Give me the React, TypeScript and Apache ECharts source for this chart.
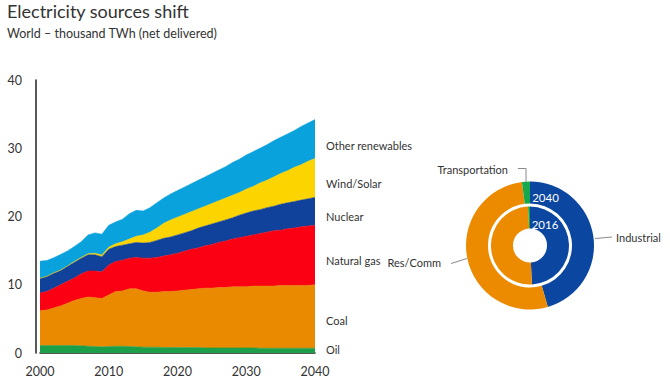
import React, { useEffect, useRef } from "react";
import * as echarts from "echarts";

const years = [
  "2000","2001","2002","2003","2004","2005","2006","2007","2008","2009",
  "2010","2011","2012","2013","2014","2015","2016","2017","2018","2019",
  "2020","2021","2022","2023","2024","2025","2026","2027","2028","2029",
  "2030","2031","2032","2033","2034","2035","2036","2037","2038","2039","2040",
];

const oil = [1.1,1.1,1.1,1.1,1.1,1.1,1.05,1.0,0.95,0.9,0.95,1.0,1.0,0.95,0.9,0.85,0.85,0.85,0.8,0.8,0.8,0.8,0.8,0.8,0.75,0.75,0.75,0.75,0.75,0.75,0.75,0.75,0.7,0.7,0.7,0.7,0.7,0.7,0.7,0.7,0.7];
const coal = [5.1,5.2,5.5,5.8,6.2,6.6,6.95,7.2,7.15,7.1,7.55,8.0,8.1,8.45,8.5,8.25,8.05,8.05,8.2,8.2,8.3,8.4,8.5,8.6,8.75,8.75,8.85,8.85,8.95,8.95,8.95,9.05,9.1,9.1,9.1,9.2,9.2,9.2,9.2,9.2,9.3];
const naturalGas = [2.6,2.7,2.9,3.1,3.2,3.3,3.6,3.8,3.9,3.9,4.4,4.4,4.5,4.5,4.6,4.8,5.0,5.1,5.2,5.4,5.5,5.7,5.9,6.0,6.2,6.4,6.6,6.8,7.0,7.2,7.4,7.5,7.7,7.9,8.1,8.1,8.3,8.4,8.6,8.7,8.7];
const nuclear = [2.1,2.2,2.2,2.1,2.2,2.3,2.3,2.4,2.4,2.2,2.3,2.2,2.2,2.1,2.2,2.2,2.3,2.5,2.6,2.6,2.7,2.7,2.7,2.9,2.9,3.0,3.0,3.1,3.1,3.3,3.4,3.5,3.5,3.6,3.6,3.8,3.8,3.9,3.9,4.0,4.1];
const windSolar = [0.05,0.05,0.05,0.05,0.05,0.1,0.1,0.15,0.2,0.25,0.3,0.4,0.5,0.7,0.9,1.2,1.5,1.8,2.2,2.5,2.6,2.7,2.8,2.8,2.9,3.0,3.1,3.2,3.3,3.3,3.5,3.6,3.9,4.0,4.3,4.5,4.7,5.0,5.2,5.5,5.7];
const otherRenewables = [2.5,2.3,2.2,2.3,2.2,2.2,2.3,2.75,3.0,3.05,3.2,3.2,3.3,3.7,3.8,3.5,3.6,3.7,3.7,3.8,3.9,4.0,4.1,4.2,4.3,4.4,4.5,4.6,4.8,4.9,5.0,5.1,5.1,5.2,5.3,5.3,5.4,5.4,5.6,5.6,5.7];

const sourceNames = ["Oil", "Coal", "Natural gas", "Nuclear", "Wind/Solar", "Other renewables"];
const sourceValues = [oil, coal, naturalGas, nuclear, windSolar, otherRenewables];
const sourceColors = ["#1c9f49", "#ea8a00", "#fb0012", "#10419b", "#fcd400", "#0aa2dc"];
const sourceLabelY = [349.5, 320, 260, 216.5, 183, 145.5];

const yTicks = [0, 10, 20, 30, 40];

const sectorNames = ["Industrial", "Res/Comm", "Transportation"];
const share2016 = [49.2, 50.0, 0.8];
const share2040 = [45.5, 52.5, 2.0];
const sectorColors = ["#0b47a0", "#ec8b00", "#16a84c"];

const FONT = "Lato, 'Open Sans', sans-serif";
const TXT = "#333333";

export default function App() {
  const ref = useRef<HTMLDivElement>(null);
  useEffect(() => {
    if (!ref.current) return;
    const chart = echarts.init(ref.current, null, { renderer: "svg" });
    const cx = 530;
    const cy = 245.5;
    const option: any = {
      animation: false,
      backgroundColor: "#ffffff",
      textStyle: { fontFamily: FONT },
      title: {
        text: "Electricity sources shift",
        subtext: "World \u2013 thousand TWh (net delivered)",
        left: 7,
        top: 2,
        padding: 0,
        itemGap: 7,
        textStyle: { fontFamily: FONT, fontSize: 18, fontWeight: "normal", color: TXT },
        subtextStyle: { fontFamily: FONT, fontSize: 12.5, color: TXT },
      },
      grid: { left: 40, right: 355, top: 80, bottom: 32, containLabel: false },
      xAxis: {
        type: "category",
        data: years,
        boundaryGap: false,
        axisLine: { show: true, lineStyle: { color: "#222", width: 1.5 } },
        axisTick: { show: false },
        axisLabel: { interval: 9, fontSize: 12.5, color: TXT, margin: 12, fontFamily: FONT },
        splitLine: { show: false },
      },
      yAxis: {
        type: "value",
        min: yTicks[0],
        max: yTicks[yTicks.length - 1],
        interval: 10,
        offset: 4,
        axisLine: { show: true, lineStyle: { color: "#222", width: 1.5 } },
        axisTick: { show: false },
        axisLabel: { fontSize: 12.5, color: TXT, margin: 14, fontFamily: FONT },
        splitLine: { show: false },
      },
      series: [
        ...sourceNames.map((name, i) => ({
          name,
          type: "line",
          stack: "total",
          data: sourceValues[i],
          symbol: "none",
          smooth: false,
          lineStyle: { width: 0.6, color: sourceColors[i] },
          itemStyle: { color: sourceColors[i] },
          areaStyle: { color: sourceColors[i], opacity: 1 },
          z: 2,
        })),
        {
          type: "pie",
          name: "2016",
          center: [cx, cy],
          radius: [17, 39],
          startAngle: 90,
          clockwise: true,
          label: { show: false },
          labelLine: { show: false },
          silent: true,
          data: sectorNames.map((n, i) => ({ name: n, value: share2016[i], itemStyle: { color: sectorColors[i] } })),
        },
        {
          type: "pie",
          name: "2040",
          center: [cx, cy],
          radius: [42, 64],
          startAngle: 90,
          clockwise: true,
          label: { show: false },
          labelLine: { show: false },
          silent: true,
          data: sectorNames.map((n, i) => ({ name: n, value: share2040[i], itemStyle: { color: sectorColors[i] } })),
        },
      ],
      graphic: [
        ...sourceNames.map((name, i) => ({
          type: "text",
          x: 326,
          y: sourceLabelY[i],
          style: { text: name, fontSize: 11, fill: TXT, fontFamily: FONT, verticalAlign: "middle", align: "left" },
        })),
        { type: "text", x: 545.5, y: 197.5, z: 10, style: { text: "2040", fontSize: 11.5, fill: "#ffffff", fontFamily: FONT, align: "center", verticalAlign: "middle" } },
        { type: "text", x: 545, y: 224.5, z: 10, style: { text: "2016", fontSize: 11.5, fill: "#ffffff", fontFamily: FONT, align: "center", verticalAlign: "middle" } },
        { type: "polyline", shape: { points: [[518, 168.5], [526, 168.5], [526, 183]] }, style: { stroke: "#8a8a8a", lineWidth: 1, fill: "none" } },
        { type: "text", x: 508, y: 169, style: { text: sectorNames[2], fontSize: 11, fill: TXT, fontFamily: FONT, align: "right", verticalAlign: "middle" } },
        { type: "line", shape: { x1: 595, y1: 238.5, x2: 612, y2: 237 }, style: { stroke: "#8a8a8a", lineWidth: 1 } },
        { type: "text", x: 616, y: 237.5, style: { text: sectorNames[0], fontSize: 11, fill: TXT, fontFamily: FONT, align: "left", verticalAlign: "middle" } },
        { type: "line", shape: { x1: 451, y1: 263.5, x2: 467, y2: 258.5 }, style: { stroke: "#8a8a8a", lineWidth: 1 } },
        { type: "text", x: 441, y: 262, style: { text: sectorNames[1], fontSize: 11, fill: TXT, fontFamily: FONT, align: "right", verticalAlign: "middle" } },
      ],
    };
    chart.setOption(option);
    return () => chart.dispose();
  }, []);
  return <div ref={ref} style={{ position: "fixed", left: 0, top: 0, width: 670, height: 385 }} />;
}
